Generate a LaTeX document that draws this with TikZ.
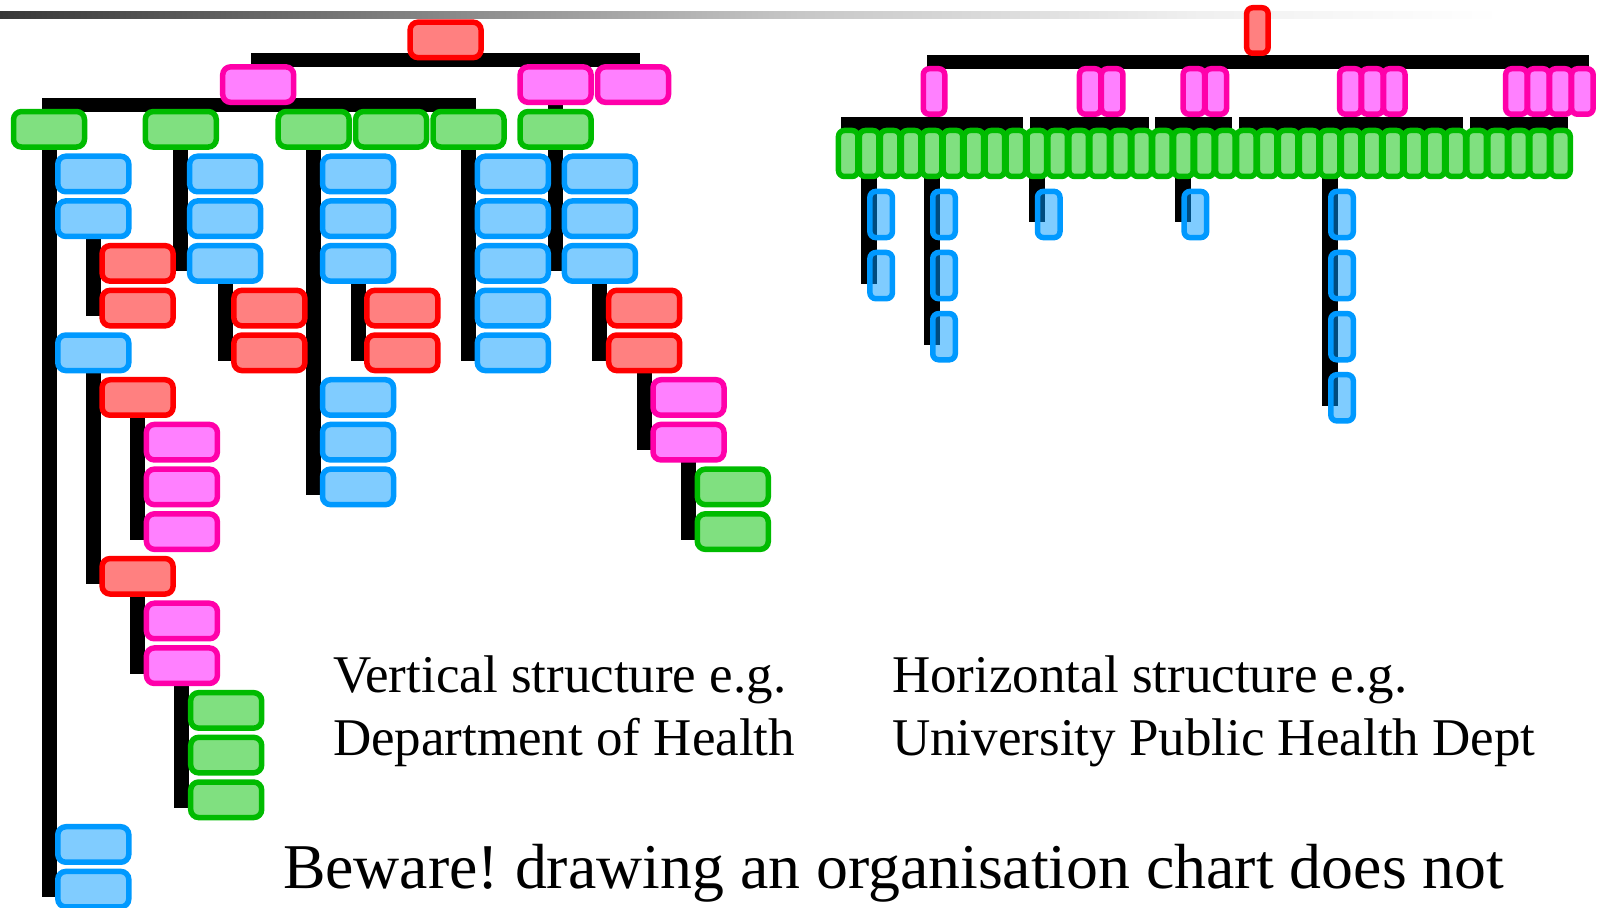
\documentclass[tikz,border=0pt]{standalone}
\usepackage{fontspec}
\setmainfont{Liberation Serif}
\usetikzlibrary{calc}
\definecolor{redline}{RGB}{255,0,0}
\definecolor{redfill}{RGB}{255,128,128}
\definecolor{pinkline}{RGB}{255,0,170}
\definecolor{pinkfill}{RGB}{255,128,255}
\definecolor{greenline}{RGB}{0,187,0}
\definecolor{greenfill}{RGB}{128,224,128}
\definecolor{blueline}{RGB}{0,153,255}
\definecolor{bluefill}{RGB}{128,204,255}
\pgfdeclarehorizontalshading{topbar}{100bp}{rgb(0bp)=(0.22,0.22,0.22); rgb(25bp)=(0.22,0.22,0.22); rgb(37.5bp)=(0.5,0.5,0.5); rgb(50bp)=(0.78,0.78,0.78); rgb(62.5bp)=(0.94,0.94,0.94); rgb(72bp)=(1,1,1); rgb(100bp)=(1,1,1)}
\pgfdeclarelayer{bg}
\pgfsetlayers{bg,main}
\newcommand{\LB}[4]{\node[#1,sizeL] (#2) at (#3,{174+44.7*(#4)}) {};}
\newcommand{\VL}[2]{\draw[vline] (#1.south) -- ($(#1.south |- #2.center)+(0,8)$);}
\newcommand{\RVL}[2]{\draw[rvline] (#1.south) -- ($(#1.south |- #2.center)+(0,8)$);}
\newcommand{\HB}[2]{\draw[hbar] ($(#1.north)+(0,-6.5)$) -- ($(#2.north)+(0,-6.5)$);}
\newcommand{\RB}[3]{\node[clearblue,sizeB] (#2) at ($(#1.center |- 0,{214.5+61.1*(#3)})+(12,0)$) {};}
\begin{document}
\frenchspacing
\begin{tikzpicture}[x=0.5pt,y=-0.5pt,
  box/.style={rectangle, rounded corners=4pt, line width=2.75pt, inner sep=0pt, outer sep=0pt},
  sizeL/.style={minimum width=35.5pt, minimum height=17.75pt},
  sizeP/.style={minimum width=10.75pt, minimum height=22.75pt, rounded corners=3pt},
  sizeG/.style={minimum width=9.75pt, minimum height=23pt, rounded corners=3pt},
  sizeB/.style={minimum width=11.25pt, minimum height=23.1pt, rounded corners=3pt},
  redbox/.style={box, draw=redline, fill=redfill},
  pinkbox/.style={box, draw=pinkline, fill=pinkfill},
  greenbox/.style={box, draw=greenline, fill=greenfill},
  bluebox/.style={box, draw=blueline, fill=bluefill},
  clearblue/.style={box, draw=blueline, fill=blueline, fill opacity=0.5},
  vline/.style={line width=7.5pt, black},
  rvline/.style={line width=8pt, black},
  hbar/.style={line width=7pt, black, line cap=rect},
  txt/.style={anchor=base west, inner sep=0pt, outer sep=0pt, font=\fontsize{26.5pt}{30pt}\selectfont},
]
\useasboundingbox (0,0) rectangle (1597,908);
\shade[shading=topbar] (0,12) rectangle (1597,19);

% ---------- left (vertical) tree ----------
\LB{redbox}{LR}{445.6}{-3}
\LB{pinkbox}{LP1}{258.2}{-2}
\LB{pinkbox}{LP2}{555.6}{-2}
\LB{pinkbox}{LP3}{633}{-2}
\LB{greenbox}{LG1}{49}{-1}
\LB{greenbox}{LG2}{180.8}{-1}
\LB{greenbox}{LG3}{313.7}{-1}
\LB{greenbox}{LG4}{391.1}{-1}
\LB{greenbox}{LG5}{468.5}{-1}
\LB{greenbox}{LG6}{555.6}{-1}
% column 1
\LB{bluebox}{A1}{93.3}{0}
\LB{bluebox}{A2}{93.3}{1}
\LB{bluebox}{A3}{93.3}{4}
\LB{bluebox}{A4}{93.3}{15}
\LB{bluebox}{A5}{93.3}{16}
\LB{redbox}{A21}{137.6}{2}
\LB{redbox}{A22}{137.6}{3}
\LB{redbox}{A31}{137.6}{5}
\LB{redbox}{A32}{137.6}{9}
\LB{pinkbox}{A311}{181.9}{6}
\LB{pinkbox}{A312}{181.9}{7}
\LB{pinkbox}{A313}{181.9}{8}
\LB{pinkbox}{A321}{181.9}{10}
\LB{pinkbox}{A322}{181.9}{11}
\LB{greenbox}{A3221}{226.2}{12}
\LB{greenbox}{A3222}{226.2}{13}
\LB{greenbox}{A3223}{226.2}{14}
% column 2
\LB{bluebox}{B1}{225.1}{0}
\LB{bluebox}{B2}{225.1}{1}
\LB{bluebox}{B3}{225.1}{2}
\LB{redbox}{B31}{269.4}{3}
\LB{redbox}{B32}{269.4}{4}
% column 3
\LB{bluebox}{C1}{358}{0}
\LB{bluebox}{C2}{358}{1}
\LB{bluebox}{C3}{358}{2}
\LB{bluebox}{C4}{358}{5}
\LB{bluebox}{C5}{358}{6}
\LB{bluebox}{C6}{358}{7}
\LB{redbox}{C31}{402.3}{3}
\LB{redbox}{C32}{402.3}{4}
% column 5
\LB{bluebox}{D1}{512.8}{0}
\LB{bluebox}{D2}{512.8}{1}
\LB{bluebox}{D3}{512.8}{2}
\LB{bluebox}{D4}{512.8}{3}
\LB{bluebox}{D5}{512.8}{4}
% column 6
\LB{bluebox}{E1}{599.9}{0}
\LB{bluebox}{E2}{599.9}{1}
\LB{bluebox}{E3}{599.9}{2}
\LB{redbox}{E31}{644.2}{3}
\LB{redbox}{E32}{644.2}{4}
\LB{pinkbox}{E321}{688.5}{5}
\LB{pinkbox}{E322}{688.5}{6}
\LB{greenbox}{E3221}{732.8}{7}
\LB{greenbox}{E3222}{732.8}{8}

% ---------- right (horizontal) tree ----------
\node[redbox,sizeP] (RR) at (1257.4,30.5) {};
\foreach \n/\x in {1/934,2/1090.2,3/1112.2,4/1193.8,5/1215.8,6/1350.3,7/1372.3,8/1394.3,9/1516.4,10/1538.4,11/1560.4,12/1582.4}
  {\node[pinkbox,sizeP] (RP\n) at (\x,91.5) {};}
\foreach \k in {0,...,34}
  {\node[greenbox,sizeG] (RG\k) at ({848.2+20.95*\k},153.5) {};}
\RB{RG1}{RB11}{0}
\RB{RG1}{RB12}{1}
\RB{RG4}{RB21}{0}
\RB{RG4}{RB22}{1}
\RB{RG4}{RB23}{2}
\RB{RG9}{RB31}{0}
\RB{RG16}{RB41}{0}
\RB{RG23}{RB51}{0}
\RB{RG23}{RB52}{1}
\RB{RG23}{RB53}{2}
\RB{RG23}{RB54}{3}

% ---------- connectors ----------
\begin{pgfonlayer}{bg}
  \HB{LP1}{LP3}
  \HB{LG1}{LG5}
  \draw[vline] (LP2.south) -- (LG6.north);
  \VL{LG1}{A5}
  \VL{A2}{A22}
  \VL{A3}{A32}
  \VL{A31}{A313}
  \VL{A32}{A322}
  \VL{A322}{A3223}
  \VL{LG2}{B3}
  \VL{B3}{B32}
  \VL{LG3}{C6}
  \VL{C3}{C32}
  \VL{LG5}{D5}
  \VL{LG6}{E3}
  \VL{E3}{E32}
  \VL{E32}{E322}
  \VL{E322}{E3222}
  \HB{RP1}{RP12}
  \HB{RG0}{RG8}
  \HB{RG9}{RG14}
  \HB{RG15}{RG18}
  \HB{RG19}{RG29}
  \HB{RG30}{RG34}
  \RVL{RG1}{RB12}
  \RVL{RG4}{RB23}
  \RVL{RG9}{RB31}
  \RVL{RG16}{RB41}
  \RVL{RG23}{RB54}
\end{pgfonlayer}

% ---------- texts ----------
\node[txt] (tv1) at (333,692.6) {Vertical structure e.g.};
\node[txt] (tv2) at (333,755.7) {Department of Health};
\node[txt] (th1) at (892.2,692.6) {Horizontal structure e.g.};
\node[txt] (th2) at (892.2,755.7) {University Public Health Dept};
\node[txt, font=\fontsize{31.9pt}{36pt}\selectfont] (tb) at (283,889) {Beware! drawing an organisation chart does not};
\end{tikzpicture}
\end{document}
